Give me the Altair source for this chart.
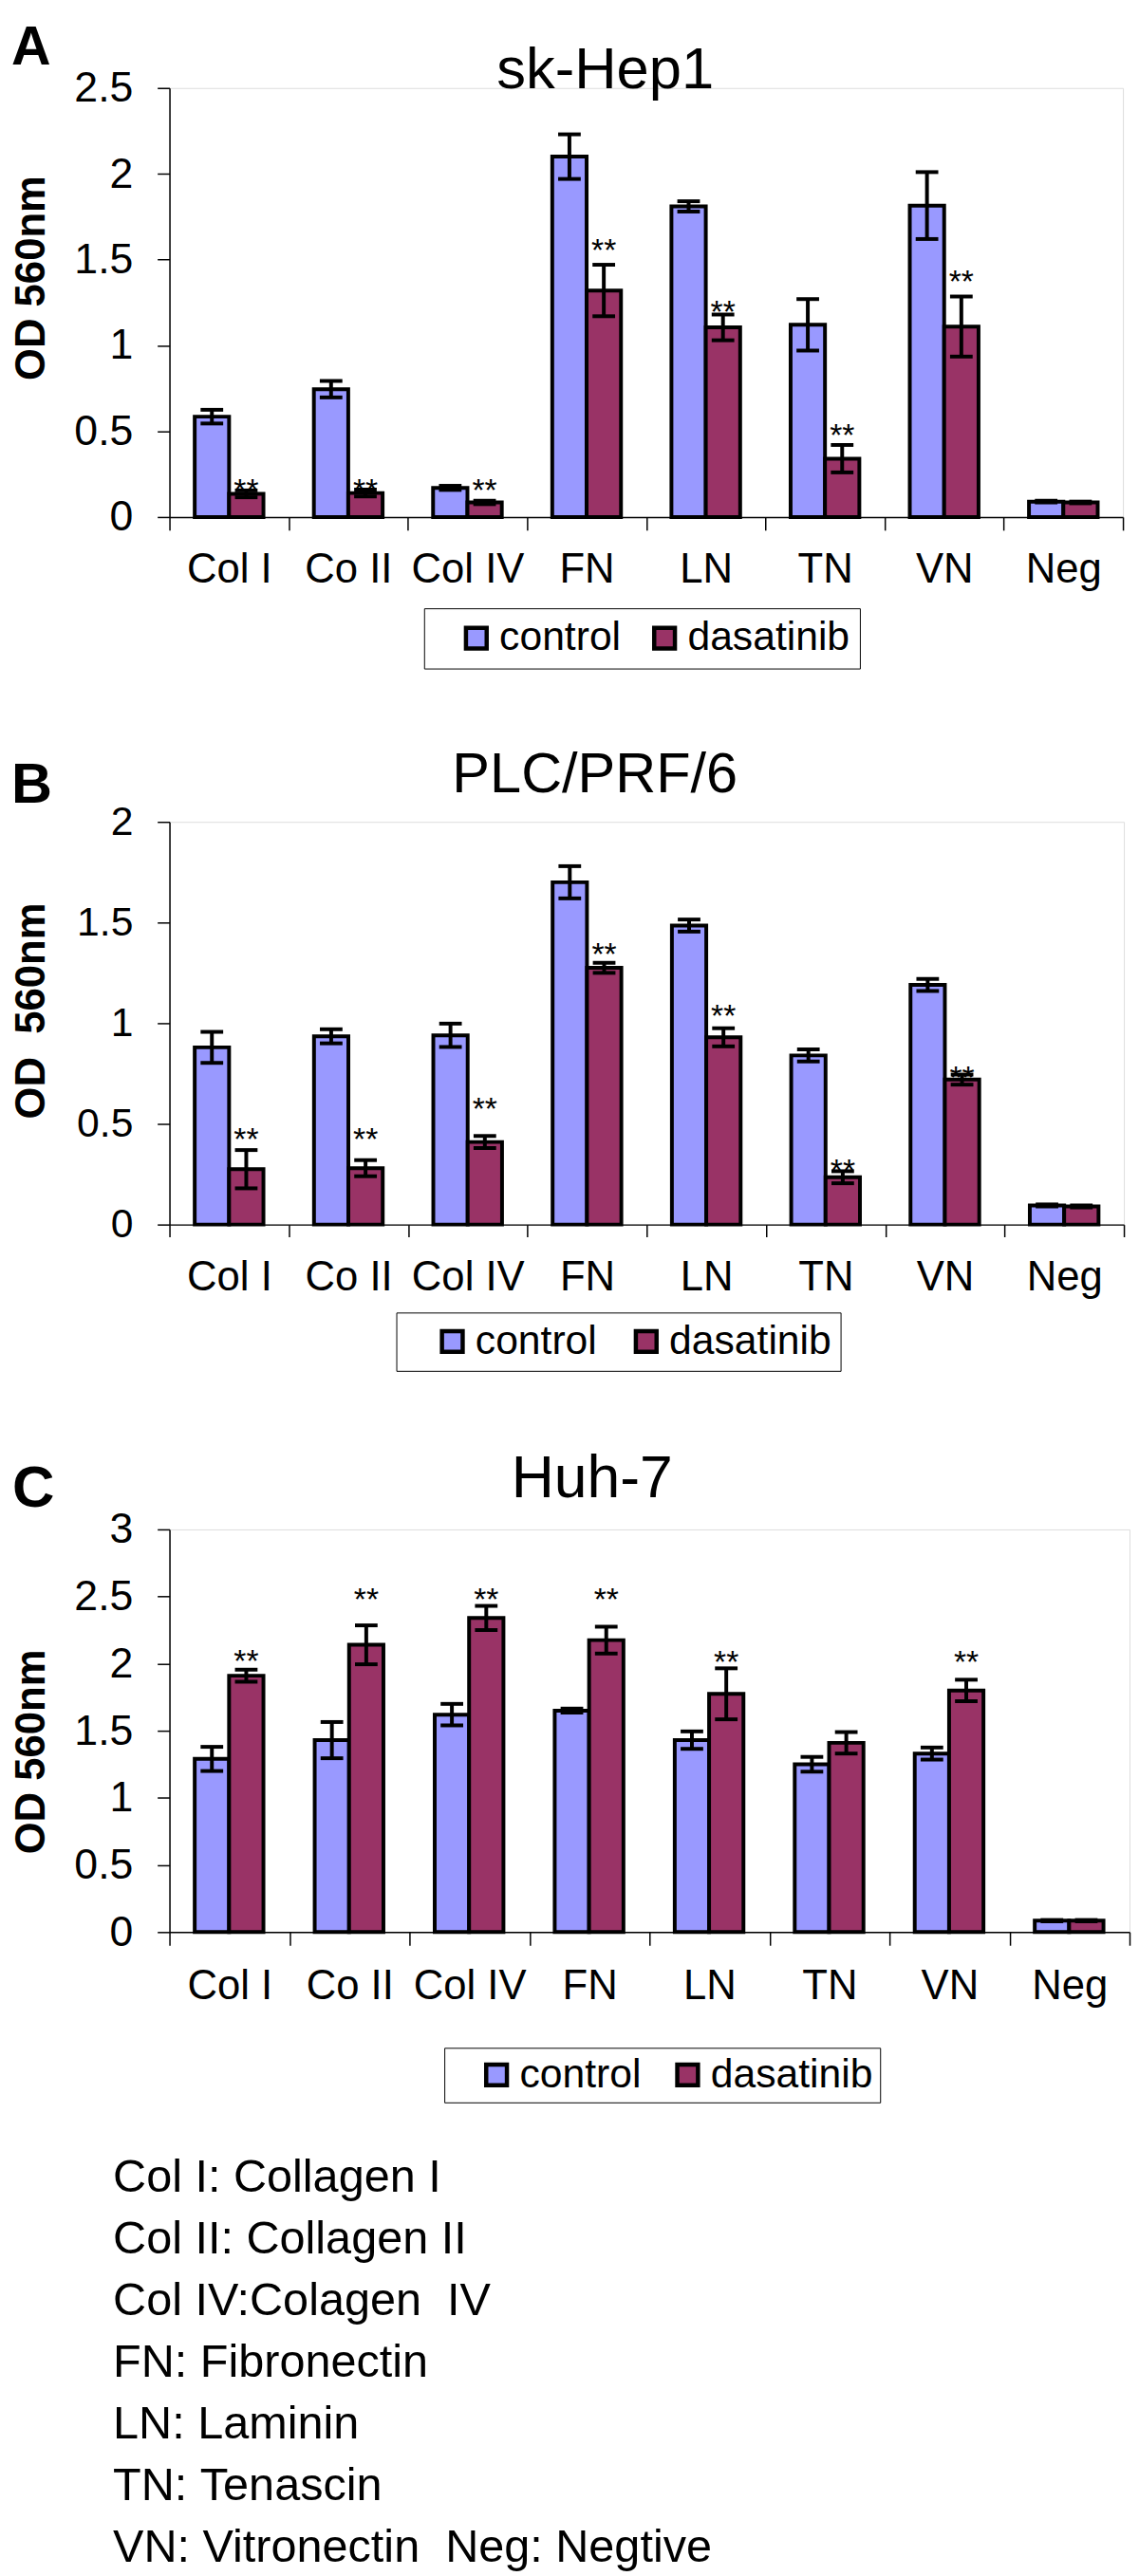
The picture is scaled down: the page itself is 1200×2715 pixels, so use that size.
import altair as alt
import pandas as pd

FONT = "Liberation Sans"
NB = "\u00a0"

categories = ["Col I", "Co II", "Col IV", "FN", "LN", "TN", "VN", "Neg"]
series_names = ["control", "dasatinib"]
colors = ["#9999FF", "#993366"]

# Panel A: sk-Hep1
a_control = [0.585, 0.745, 0.17, 2.10, 1.81, 1.12, 1.815, 0.09]
a_control_err = [0.04, 0.048, 0.012, 0.13, 0.03, 0.15, 0.195, 0.005]
a_dasatinib = [0.135, 0.14, 0.085, 1.32, 1.105, 0.34, 1.11, 0.085]
a_dasatinib_err = [0.02, 0.02, 0.01, 0.15, 0.075, 0.08, 0.175, 0.005]
a_star_cats = ["Col I", "Co II", "Col IV", "FN", "LN", "TN", "VN"]
a_star_y = [0.199, 0.199, 0.20, 1.594, 1.237, 0.518, 1.416]

# Panel B: PLC/PRF/6
b_control = [0.88, 0.935, 0.94, 1.70, 1.485, 0.84, 1.19, 0.095]
b_control_err = [0.077, 0.035, 0.058, 0.08, 0.03, 0.03, 0.03, 0.005]
b_dasatinib = [0.275, 0.28, 0.41, 1.275, 0.93, 0.235, 0.72, 0.09]
b_dasatinib_err = [0.095, 0.04, 0.03, 0.025, 0.045, 0.03, 0.025, 0.005]
b_star_cats = ["Col I", "Co II", "Col IV", "FN", "LN", "TN", "VN"]
b_star_y = [0.46, 0.46, 0.608, 1.378, 1.074, 0.304, 0.764]

# Panel C: Huh-7
c_control = [1.29, 1.43, 1.62, 1.65, 1.43, 1.25, 1.33, 0.085]
c_control_err = [0.09, 0.135, 0.08, 0.015, 0.065, 0.055, 0.045, 0.005]
c_dasatinib = [1.91, 2.14, 2.34, 2.175, 1.775, 1.41, 1.80, 0.085]
c_dasatinib_err = [0.045, 0.145, 0.09, 0.1, 0.19, 0.08, 0.08, 0.005]
c_star_cats = ["Col I", "Co II", "Col IV", "FN", "LN", "VN"]
c_star_y = [2.07, 2.53, 2.53, 2.533, 2.064, 2.064]

definitions = [
    "Col I: Collagen I",
    "Col II: Collagen II",
    "Col IV:Colagen" + NB + NB + "IV",
    "FN:" + NB + "Fibronectin",
    "LN:" + NB + "Laminin",
    "TN:" + NB + "Tenascin",
    "VN: Vitronectin" + NB + NB + "Neg: Negtive",
]


def bar_frame(ctrl, ctrl_err, das, das_err):
    rows = []
    for i, c in enumerate(categories):
        for s, v, e in (("control", ctrl[i], ctrl_err[i]), ("dasatinib", das[i], das_err[i])):
            rows.append({"cat": c, "series": s, "value": v, "lo": v - e, "hi": v + e})
    return pd.DataFrame(rows)


def star_frame(cats, ys):
    return pd.DataFrame({"cat": cats, "series": ["dasatinib"] * len(cats), "ast": ys, "t": ["**"] * len(cats)})


def label_layer(text, x, y, size, weight="normal", align="left"):
    return alt.Chart(pd.DataFrame({"t": [text]})).mark_text(
        font=FONT, fontSize=size, fontWeight=weight, align=align,
        baseline="alphabetic", color="black"
    ).encode(text="t:N", x=alt.value(x), y=alt.value(y))


def panel(df, stars, ymax, yticks, width, height, letter, letter_pos, title, title_pos,
          title_size, ytitle, ytitle_y, ylab_size, xtick, xpad, legend_x, legend_y,
          legend_pad, sym_off, col_pad, trail, extra=None):
    xscale = alt.Scale(paddingInner=0, paddingOuter=0)
    xaxis = alt.Axis(title=None, labelAngle=0, tickBand="extent", tickSize=xtick,
                     labelPadding=xpad, labelFontSize=44, labelFont=FONT, labelColor="black",
                     domainColor="black", tickColor="black", domainWidth=1.5, tickWidth=1.5,
                     grid=False)
    x = alt.X("cat:N", sort=categories, scale=xscale, axis=xaxis)
    xoff = alt.XOffset("series:N", sort=series_names,
                       scale=alt.Scale(domain=series_names, paddingInner=0, paddingOuter=0.734))
    yscale = alt.Scale(domain=[0, ymax], nice=False, zero=True)
    yaxis = alt.Axis(values=yticks, format="~g", title=ytitle, titleFont=FONT,
                     titleFontSize=44, titleFontWeight="bold", titleColor="black",
                     titleAngle=270, titleX=-133, titleY=ytitle_y, titleAlign="center",
                     titleBaseline="alphabetic", labelFontSize=ylab_size, labelFont=FONT,
                     labelColor="black", labelPadding=26, tickSize=13, tickWidth=1.5,
                     tickColor="black", domainColor="black", domainWidth=1.5, grid=False)

    def Y(field):
        return alt.Y(field, type="quantitative", scale=yscale, axis=yaxis)

    label_expr = "datum.label == 'dasatinib' ? 'dasatinib" + NB * trail + "' : datum.label"
    legend = alt.Legend(title=None, orient="none", legendX=legend_x, legendY=legend_y,
                        direction="horizontal", strokeColor="black", padding=legend_pad,
                        symbolType="square", symbolSize=484, symbolStrokeColor="black",
                        symbolStrokeWidth=4.5, symbolOffset=sym_off, labelFontSize=43,
                        labelFont=FONT, labelColor="black", labelOffset=3,
                        labelLimit=400, columnPadding=col_pad, labelExpr=label_expr)
    color = alt.Color("series:N", sort=series_names,
                      scale=alt.Scale(domain=series_names, range=colors), legend=legend)

    bars = alt.Chart(df).mark_bar(stroke="black", strokeWidth=4).encode(
        x=x, xOffset=xoff, y=Y("value"), color=color)
    rules = alt.Chart(df).mark_rule(color="black", strokeWidth=4).encode(
        x=x, xOffset=xoff, y=Y("lo"), y2="hi:Q")
    cap_lo = alt.Chart(df).mark_tick(color="black", thickness=4, size=24, opacity=1).encode(
        x=x, xOffset=xoff, y=Y("lo"))
    cap_hi = alt.Chart(df).mark_tick(color="black", thickness=4, size=24, opacity=1).encode(
        x=x, xOffset=xoff, y=Y("hi"))
    ast = alt.Chart(stars).mark_text(font=FONT, fontSize=34, dy=19, baseline="alphabetic",
                                     color="black").encode(
        x=x, xOffset=xoff, y=Y("ast"), text="t:N")
    layers = [bars, rules, cap_lo, cap_hi, ast,
              label_layer(letter, letter_pos[0], letter_pos[1], letter_pos[2], "bold"),
              label_layer(title, title_pos[0], title_pos[1], title_size, align="center")]
    if extra:
        layers += extra
    return alt.layer(*layers).properties(width=width, height=height)


ticks_a = [0, 0.5, 1, 1.5, 2, 2.5]
ticks_b = [0, 0.5, 1, 1.5, 2]
ticks_c = [0, 0.5, 1, 1.5, 2, 2.5, 3]

pa = panel(bar_frame(a_control, a_control_err, a_dasatinib, a_dasatinib_err),
           star_frame(a_star_cats, a_star_y), 2.5, ticks_a, 1013, 456,
           "A", (-168, -24.5, 58), "sk-Hep1", (463, 0), 62,
           "OD 560nm", 201.5, 45, 14, 20, 270.5, 553, 10, 24, -4, 0)

pb = panel(bar_frame(b_control, b_control_err, b_dasatinib, b_dasatinib_err),
           star_frame(b_star_cats, b_star_y), 2.0, ticks_b, 1014, 428,
           "B", (-168, -20.5, 60), "PLC/PRF/6", (452, -31.5), 60,
           "OD" + NB + NB + "560nm", 200.5, 43, 13, 21, 241, 521.5, 9, 29, 1, 1)

def_layers = [label_layer(t, -60, 704 + i * 65.6, 49) for i, t in enumerate(definitions)]

pc = panel(bar_frame(c_control, c_control_err, c_dasatinib, c_dasatinib_err),
           star_frame(c_star_cats, c_star_y), 3.0, ticks_c, 1020, 428,
           "C", (-167, -24, 62), "Huh-7", (449, -34), 63,
           "OD 560nm", 236, 45, 14, 22, 292, 551, 7, 27, 0, 1, extra=def_layers)

chart = alt.vconcat(pa, pb, pc, spacing=82).resolve_scale(
    color="independent").resolve_legend(color="independent").properties(
    padding={"left": 3, "top": 3, "right": 0, "bottom": 0},
    background="white",
).configure_view(stroke=None).configure(font=FONT)

chart.save("out.html", embed_options={"renderer": "svg", "actions": False})
